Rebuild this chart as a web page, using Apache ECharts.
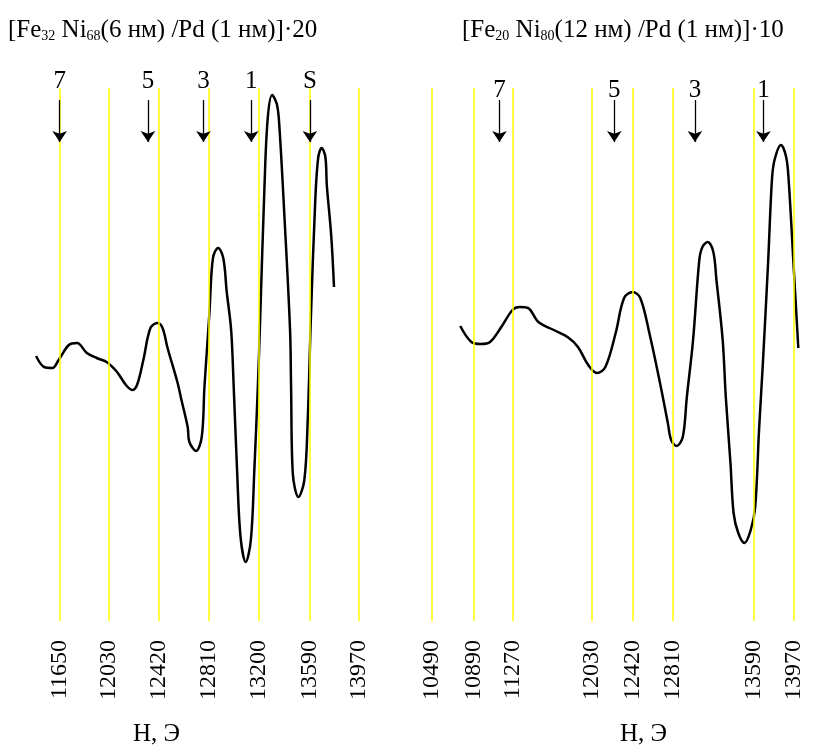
<!DOCTYPE html>
<html><head><meta charset="utf-8">
<script src="https://cdn.jsdelivr.net/npm/echarts@6/dist/echarts.min.js"></script>
<style>html,body{margin:0;padding:0;background:#fff}#c{width:816px;height:749px}</style>
</head><body><div id="c"></div>
<script>
// Field H (Oe) and derivative signal (arb. units), left sample [Fe32Ni68(6 nm)/Pd(1 nm)]x20
const leftH = [11470,11533,11596,11645,11724,11788,11864,11940,12017,12098,12167,12216,12253,12302,12357,12412,12451,12490,12568,12594,12646,12659,12711,12755,12776,12802,12815,12842,12882,12922,12949,12983,13003,13029,13056,13096,13136,13163,13190,13208,13242,13267,13301,13339,13358,13397,13440,13448,13461,13505,13551,13577,13601,13635,13658,13685,13714,13725,13759,13781];
const leftSignal = [-1,-12,-13,-5,10,12,2,-3,-7,-17,-30,-35,-30,-5,27,32,27,7,-28,-43,-72,-87,-96,-82,-32,18,43,97,107,97,63,25,-32,-115,-182,-207,-185,-115,-32,35,170,237,260,250,227,137,25,-32,-118,-142,-125,-65,35,153,197,207,198,170,120,68];
// right sample [Fe20Ni80(12 nm)/Pd(1 nm)]x10
const rightH = [10764,10871,10962,11051,11159,11267,11334,11416,11516,11665,11797,11897,11996,12079,12161,12260,12341,12424,12497,12584,12681,12762,12794,12846,12906,12945,13005,13065,13095,13146,13200,13230,13290,13320,13365,13395,13440,13500,13560,13603,13640,13677,13727,13764,13789,13851,13901,13925,13975,14018];
const rightSignal = [29,13,11,13,28,45,48,47,33,25,18,8,-10,-18,-12,22,57,63,57,22,-25,-68,-85,-91,-82,-42,15,95,108,113,103,75,15,-42,-108,-158,-178,-188,-175,-152,-75,-8,92,175,195,210,198,175,85,7];

const leftTicks = [11650,12030,12420,12810,13200,13590,13970];
const rightTicks = [10490,10890,11270,12030,12420,12810,13590,13970];

const leftModes = ['7','5','3','1','S'];
const leftModeH = [11653,12338,12768,13139,13594];
const rightModes = ['7','5','3','1'];
const rightModeH = [11141,12247,13023,13682];

const leftTitle = '{b|[Fe}{s|32}{b| Ni}{s|68}{b|(6 нм) /Pd (1 нм)]·20}';
const rightTitle = '{b|[Fe}{s|20}{b| Ni}{s|80}{b|(12 нм) /Pd (1 нм)]·10}';
const axisTitle = 'Н, Э';

const FONT = 'Liberation Serif';
const ARROW_TOP = 255, ARROW_TIP = 213;

function xAxisCfg(idx, min, max, ticks) {
  return {
    type: 'value', gridIndex: idx, min: min, max: max,
    axisLine: {show: false}, axisTick: {show: false}, splitLine: {show: false},
    axisLabel: {
      customValues: ticks, rotate: 90, margin: 19,
      formatter: v => String(v),
      fontFamily: FONT, fontSize: 24, color: '#000'
    }
  };
}
function yAxisCfg(idx) {
  return {type: 'value', gridIndex: idx, min: -266, max: 267, show: false};
}
function yellowSeries(idx, ticks) {
  return {
    type: 'line', xAxisIndex: idx, yAxisIndex: idx, data: [], z: 1, silent: true,
    markLine: {
      silent: true, symbol: ['none', 'none'], label: {show: false},
      lineStyle: {color: '#ffff00', width: 1.5, type: 'solid'},
      emphasis: {disabled: true},
      data: ticks.map(v => ({xAxis: v}))
    }
  };
}
function curveSeries(idx, hs, sig) {
  return {
    type: 'line', xAxisIndex: idx, yAxisIndex: idx, z: 3,
    data: hs.map((h, i) => [h, sig[i]]),
    showSymbol: false, smooth: 0.35,
    lineStyle: {color: '#000', width: 2.5}
  };
}
function arrowSeries(idx, modes, hs, dist) {
  return {
    type: 'line', xAxisIndex: idx, yAxisIndex: idx, data: [], z: 4, silent: true,
    markLine: {
      silent: true, symbol: ['none', 'arrow'], symbolSize: 11,
      lineStyle: {color: '#000', width: 1.3, type: 'solid'},
      itemStyle: {color: '#000'},
      emphasis: {disabled: true},
      label: {show: true, position: 'start', formatter: '{b}', distance: dist,
              fontFamily: FONT, fontSize: 25, color: '#000'},
      data: modes.map((m, i) => [
        {coord: [hs[i], ARROW_TOP], name: m},
        {coord: [hs[i], ARROW_TIP]}
      ])
    }
  };
}
const titleRich = {
  b: {fontFamily: FONT, fontSize: 25, color: '#000', lineHeight: 30, verticalAlign: 'bottom'},
  s: {fontFamily: FONT, fontSize: 14, color: '#000', lineHeight: 10, verticalAlign: 'bottom'}
};

const chart = echarts.init(document.getElementById('c'), null, {renderer: 'canvas'});
chart.setOption({
  animation: false,
  backgroundColor: '#fff',
  textStyle: {fontFamily: FONT},
  title: [
    {text: leftTitle, left: 8, top: 13, padding: 0, textStyle: {rich: titleRich, fontWeight: 'normal'}},
    {text: rightTitle, left: 462, top: 13, padding: 0, textStyle: {rich: titleRich, fontWeight: 'normal'}},
    {text: axisTitle, left: 133, top: 722, padding: 0, textStyle: {fontFamily: FONT, fontSize: 25, fontWeight: 'normal', color: '#000'}},
    {text: axisTitle, left: 620, top: 722, padding: 0, textStyle: {fontFamily: FONT, fontSize: 25, fontWeight: 'normal', color: '#000'}}
  ],
  grid: [
    {left: 27.05, top: 88, width: 335.2, height: 533},
    {left: 422.44, top: 88, width: 384.39, height: 533}
  ],
  xAxis: [xAxisCfg(0, 11400, 14000, leftTicks), xAxisCfg(1, 10400, 14100, rightTicks)],
  yAxis: [yAxisCfg(0), yAxisCfg(1)],
  series: [
    yellowSeries(0, leftTicks), curveSeries(0, leftH, leftSignal), arrowSeries(0, leftModes, leftModeH, 6),
    yellowSeries(1, rightTicks), curveSeries(1, rightH, rightSignal), arrowSeries(1, rightModes, rightModeH, -3)
  ]
});
</script>
</body></html>
